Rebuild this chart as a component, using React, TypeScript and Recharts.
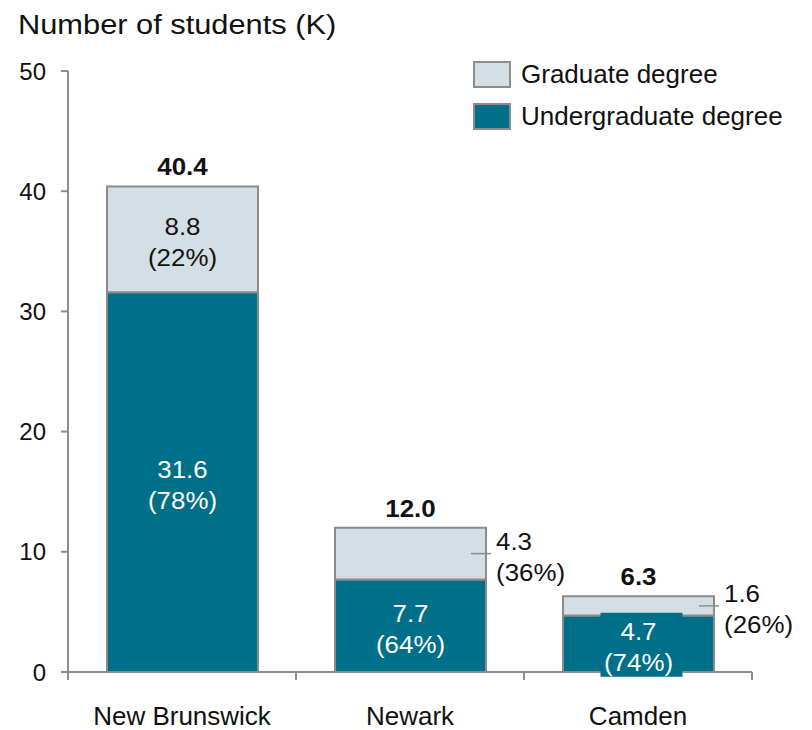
import { BarChart, Bar, XAxis, YAxis, Legend, LabelList, Customized } from "recharts"

const campuses = ["New Brunswick", "Newark", "Camden"]
const undergraduate = [31.6, 7.7, 4.7]
const graduate = [8.8, 4.3, 1.6]
const undergraduatePct = [78, 64, 74]
const graduatePct = [22, 36, 26]
const totals = [40.4, 12.0, 6.3]
const yTicks = [0, 10, 20, 30, 40, 50]
const legendLabels = ["Graduate degree", "Undergraduate degree"]

const TEAL = "#00708a"
const PALE = "#d3dfe5"
const EDGE = "#8c8c8c"
const INK = "#111"
const FONT = "'Liberation Sans', Arial, sans-serif"

const W = 812
const H = 730
const MARGIN = { top: 71, right: 60, bottom: 0, left: 0 }
const Y_W = 68
const X_H = 58
const PLOT_W = W - MARGIN.left - MARGIN.right - Y_W
// the source text is drawn a little wider than Arial
const STRETCH = 1.08

const data = campuses.map((name, i) => ({
  name,
  undergraduate: undergraduate[i],
  graduate: graduate[i],
}))

// label props differ a bit between versions, take the box from wherever it is
const box = (p: any) => {
  const v = p.viewBox ?? p
  return { x: +v.x, y: +v.y, width: +v.width, height: +v.height }
}

const Wide = ({ x, y, anchor = "middle", size = 24, bold = false, fill = INK, sx = STRETCH, children }: any) => (
  <text
    transform={`translate(${x},${y}) scale(${sx},1)`}
    textAnchor={anchor}
    fontSize={size}
    fontWeight={bold ? "bold" : "normal"}
    fill={fill}
    fontFamily={FONT}
  >
    {children}
  </text>
)

const twoLines = (x: number, mid: number, a: string, b: string, fill: string, anchor: string) => (
  <g>
    <Wide x={x} y={mid - 4} anchor={anchor} fill={fill}>{a}</Wide>
    <Wide x={x} y={mid + 27} anchor={anchor} fill={fill}>{b}</Wide>
  </g>
)

function UndergradLabel(props: any) {
  const { x, y, width, height } = box(props)
  const i = props.index
  const cx = x + width / 2
  const mid = y + height / 2
  return (
    <g>
      {i === 2 && <rect x={cx - 38} y={mid - 31} width={82} height={64} fill={TEAL} />}
      {twoLines(cx, mid, undergraduate[i].toFixed(1), `(${undergraduatePct[i]}%)`, "#fff", "middle")}
    </g>
  )
}

function GraduateLabel(props: any) {
  const { x, y, width, height } = box(props)
  const i = props.index
  const mid = y + height / 2
  const a = graduate[i].toFixed(1)
  const b = `(${graduatePct[i]}%)`
  if (height > 80) return twoLines(x + width / 2, mid, a, b, INK, "middle")
  const right = x + width
  return (
    <g>
      <line x1={right - 15} x2={right + 5} y1={mid} y2={mid} stroke={EDGE} strokeWidth={1.5} />
      {twoLines(right + 10, mid, a, b, INK, "start")}
    </g>
  )
}

function TotalLabel(props: any) {
  const { x, y, width } = box(props)
  return (
    <Wide x={x + width / 2} y={y - 11} size={24} bold>
      {totals[props.index].toFixed(1)}
    </Wide>
  )
}

function CampusTick(props: any) {
  const { x, y, payload, index } = props
  const band = PLOT_W / campuses.length
  return (
    <g>
      <line x1={x - band / 2} x2={x - band / 2} y1={y} y2={y + 8} stroke={EDGE} strokeWidth={2} />
      {index === campuses.length - 1 && (
        <line x1={x + band / 2} x2={x + band / 2} y1={y} y2={y + 8} stroke={EDGE} strokeWidth={2} />
      )}
      <text x={x} y={y + 53} textAnchor="middle" fontSize={26} fill={INK} fontFamily={FONT}>
        {payload.value}
      </text>
    </g>
  )
}

const LegendBox = () => (
  <div style={{ fontFamily: FONT, fontSize: 26, color: INK }}>
    {legendLabels.map((label, i) => (
      <div key={label} style={{ display: "flex", alignItems: "center", height: 42 }}>
        <span
          style={{
            width: 38,
            height: 27,
            boxSizing: "border-box",
            border: `2px solid ${EDGE}`,
            background: i === 0 ? PALE : TEAL,
            marginRight: 10,
          }}
        />
        {label}
      </div>
    ))}
  </div>
)

export default function App() {
  return (
    <div style={{ position: "absolute", left: 0, top: 0 }}>
      <BarChart width={W} height={H} data={data} margin={MARGIN} barSize={151}>
        <Customized
          component={() => (
            <Wide x={18} y={34} anchor="start" size={28} sx={1.1}>
              Number of students (K)
            </Wide>
          )}
        />
        <XAxis
          dataKey="name"
          height={X_H}
          interval={0}
          tickLine={false}
          tickSize={0}
          tickMargin={0}
          axisLine={{ stroke: EDGE, strokeWidth: 2 }}
          tick={<CampusTick />}
        />
        <YAxis
          width={Y_W}
          domain={[0, 50]}
          ticks={yTicks}
          tickSize={7}
          tickMargin={15}
          tickLine={{ stroke: EDGE, strokeWidth: 2 }}
          axisLine={{ stroke: EDGE, strokeWidth: 2 }}
          tick={{ fontSize: 24, fill: INK, fontFamily: FONT }}
        />
        <Legend
          layout="horizontal"
          verticalAlign="middle"
          align="center"
          wrapperStyle={{ position: "absolute", left: 473, top: 53, width: 330 }}
          content={<LegendBox />}
        />
        <Bar dataKey="undergraduate" stackId="a" fill={TEAL} stroke={EDGE} strokeWidth={2} isAnimationActive={false}>
          <LabelList dataKey="undergraduate" content={<UndergradLabel />} />
        </Bar>
        <Bar dataKey="graduate" stackId="a" fill={PALE} stroke={EDGE} strokeWidth={2} isAnimationActive={false}>
          <LabelList dataKey="graduate" content={<GraduateLabel />} />
          <LabelList dataKey="graduate" content={<TotalLabel />} />
        </Bar>
      </BarChart>
    </div>
  )
}
